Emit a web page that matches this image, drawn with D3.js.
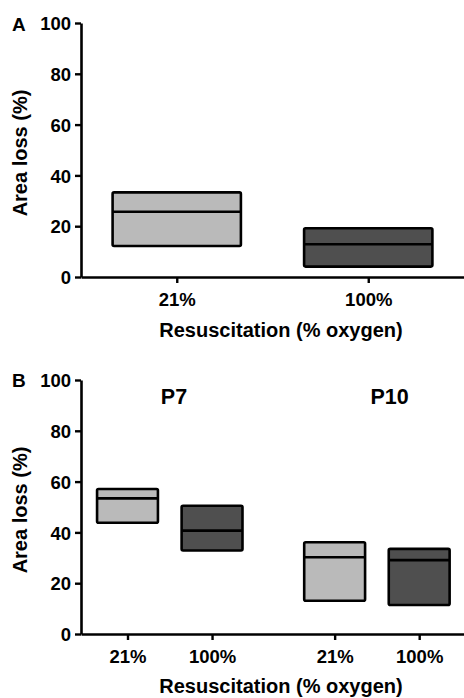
<!DOCTYPE html>
<html>
<head>
<meta charset="utf-8">
<script src="https://cdn.jsdelivr.net/npm/d3@7"></script>
<style>
  html, body { margin: 0; padding: 0; background: #fff; }
  svg text { font-family: "Liberation Sans", Arial, sans-serif; font-weight: bold; fill: #000; }
</style>
</head>
<body>
<svg id="chart" width="464" height="698"></svg>
<script>
// ---- Data ----
const yTicks = [0, 20, 40, 60, 80, 100];
const xTickLabels = ["21%", "100%"];

// Panel A: boxes (low, median, high)
const panelACategories = ["21%", "100%"];
const panelALow    = [12.2, 4.1];
const panelAMedian = [25.7, 12.9];
const panelAHigh   = [33.3, 19.2];

// Panel B
const panelBGroups = ["P7", "P10"];
const panelBCategories = ["21%", "100%", "21%", "100%"];
const panelBPositions  = [1, 2, 3.45, 4.45];
const panelBLow    = [43.8, 32.9, 13.1, 11.4];
const panelBMedian = [53.4, 40.7, 30.2, 29.1];
const panelBHigh   = [57.1, 50.5, 36.1, 33.5];

const colors = { "21%": "#bababa", "100%": "#4f4f4f" };

const svg = d3.select("#chart");

function drawPanel(opts) {
  const g = svg.append("g");
  const x = d3.scaleLinear().domain(opts.xDomain).range([81, 464]);
  const y = d3.scaleLinear().domain([0, 100]).range([opts.y0, opts.y100]);

  // boxes
  const data = opts.cats.map((c, i) => ({
    cat: c, pos: opts.pos[i], lo: opts.lo[i], med: opts.med[i], hi: opts.hi[i]
  }));
  const bw = opts.boxWidth;
  const boxes = g.selectAll("g.box").data(data).enter().append("g");
  boxes.append("rect")
    .attr("x", d => x(d.pos - bw / 2))
    .attr("width", d => x(d.pos + bw / 2) - x(d.pos - bw / 2))
    .attr("y", d => y(d.hi))
    .attr("height", d => y(d.lo) - y(d.hi))
    .attr("rx", 1.5)
    .attr("fill", d => colors[d.cat])
    .attr("stroke", "#000")
    .attr("stroke-width", 2.6);
  boxes.append("line")
    .attr("x1", d => x(d.pos - bw / 2))
    .attr("x2", d => x(d.pos + bw / 2))
    .attr("y1", d => y(d.med))
    .attr("y2", d => y(d.med))
    .attr("stroke", "#000")
    .attr("stroke-width", 2.6);

  // y axis
  const ya = g.append("g").attr("transform", "translate(81,0)")
    .call(d3.axisLeft(y).tickValues(yTicks).tickSize(6).tickSizeOuter(0).tickPadding(4));
  ya.select(".domain").attr("stroke", "#000").attr("stroke-width", 2.6);
  ya.selectAll(".tick line").attr("stroke", "#000").attr("stroke-width", 2.4);
  ya.selectAll(".tick text").style("font-size", "18.5px").attr("dy", "0.36em");

  // x axis
  const xa = g.append("g").attr("transform", `translate(0,${opts.y0})`)
    .call(d3.axisBottom(x).tickValues(opts.pos).tickFormat((d, i) => opts.cats[i])
      .tickSize(6).tickSizeOuter(0).tickPadding(10));
  xa.select(".domain").attr("stroke", "#000").attr("stroke-width", 2.6);
  xa.selectAll(".tick line").attr("stroke", "#000").attr("stroke-width", 2.4);
  xa.selectAll(".tick text").style("font-size", "18.5px");

  // y title
  g.append("text")
    .attr("transform", `translate(27,${(opts.y0 + opts.y100) / 2 + 3}) rotate(-90)`)
    .attr("text-anchor", "middle")
    .style("font-size", "20px")
    .text("Area loss (%)");

  // x title
  g.append("text")
    .attr("x", 281).attr("y", opts.titleY)
    .attr("text-anchor", "middle")
    .style("font-size", "20px")
    .text("Resuscitation (% oxygen)");

  // panel letter
  g.append("text")
    .attr("x", 12).attr("y", opts.letterY)
    .style("font-size", "19px")
    .text(opts.letter);

  return { g, x, y };
}

drawPanel({
  letter: "A", letterY: 31,
  xDomain: [0.5, 2.5], y0: 277, y100: 23,
  cats: panelACategories, pos: [1, 2],
  lo: panelALow, med: panelAMedian, hi: panelAHigh,
  boxWidth: 0.67, titleY: 337
});

const pb = drawPanel({
  letter: "B", letterY: 387,
  xDomain: [0.45, 4.98], y0: 634, y100: 380,
  cats: panelBCategories, pos: panelBPositions,
  lo: panelBLow, med: panelBMedian, hi: panelBHigh,
  boxWidth: 0.72, titleY: 693
});

// group labels
const groupCenters = [
  (panelBPositions[0] + panelBPositions[1]) / 2 + 0.05,
  (panelBPositions[2] + panelBPositions[3]) / 2 + 0.15
];
pb.g.selectAll("text.grp").data(panelBGroups).enter().append("text")
  .attr("class", "grp")
  .attr("x", (d, i) => pb.x(groupCenters[i]))
  .attr("y", 404)
  .attr("text-anchor", "middle")
  .style("font-size", "21.5px")
  .text(d => d);
</script>
</body>
</html>
